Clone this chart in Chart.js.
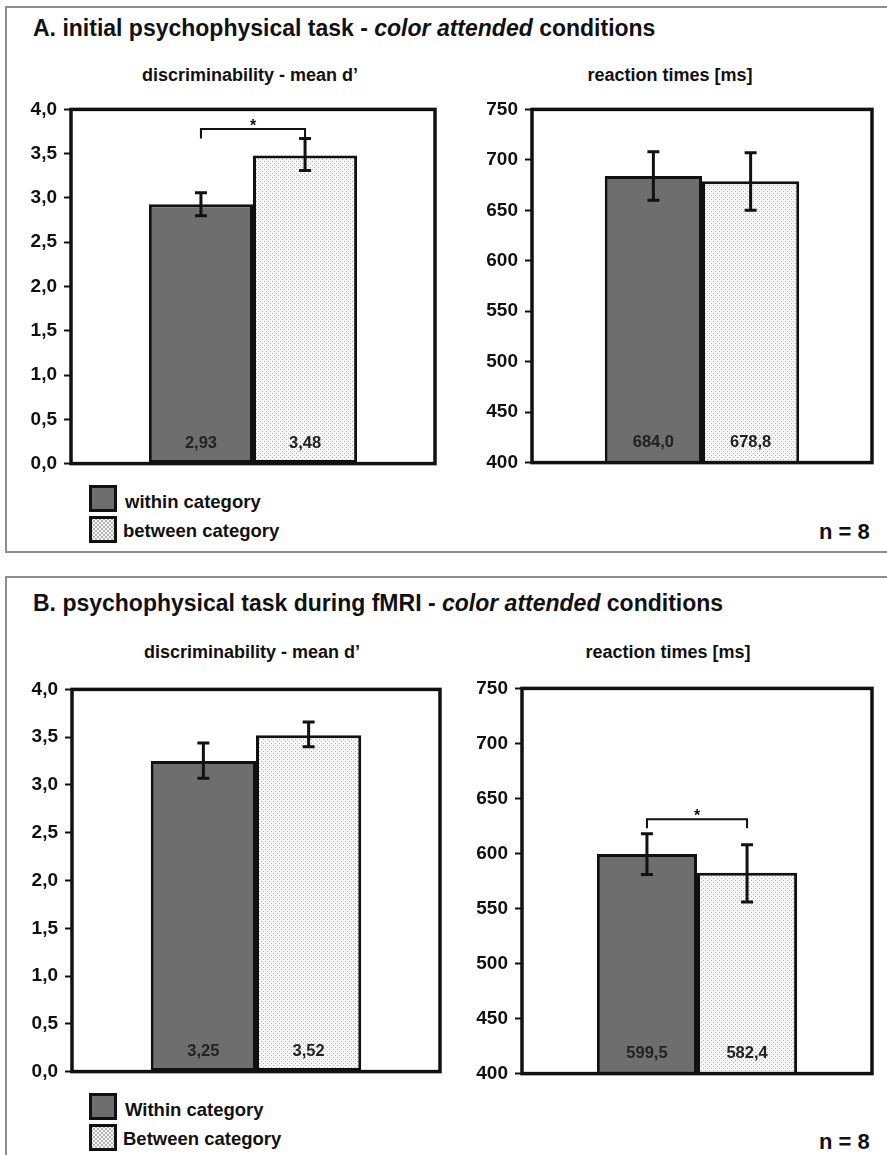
<!DOCTYPE html>
<html>
<head>
<meta charset="utf-8">
<script src="https://cdn.jsdelivr.net/npm/chart.js@4.4.0/dist/chart.umd.min.js"></script>
<style>
  html, body { margin: 0; padding: 0; background: #fff; }
  body { width: 887px; height: 1155px; position: relative; overflow: hidden;
         font-family: 'Liberation Sans', Arial, sans-serif; color: #111; }
  .panel { position: absolute; left: 5px; width: 920px; box-sizing: border-box;
           border: 2px solid #8c8c8c; }
  .txt { position: absolute; font-weight: bold; white-space: nowrap; }
  .title { font-size: 23px; line-height: 23px; }
  .sub { font-size: 18px; line-height: 18px; transform: translateX(-50%); }
  .leg { font-size: 18.5px; line-height: 18px; }
  .nlab { font-size: 22px; line-height: 22px; }
  .box { position: absolute; left: 89px; width: 28px; height: 27px; box-sizing: border-box;
         border: 3px solid #111; }
  .box.within { background: #6e6e6e; }
  .box.between { background-color: #f6f6f6;
    background-image: radial-gradient(circle, #b0b0b0 0.7px, transparent 0.9px),
                      radial-gradient(circle, #b0b0b0 0.7px, transparent 0.9px);
    background-size: 4px 4px; background-position: 0 0, 2px 2px; }
  canvas { position: absolute; }
</style>
</head>
<body>

<div class="panel" style="top:6px; height:547px;"></div>
<div class="panel" style="top:576px; height:700px;"></div>

<div class="txt title" style="left:33px; top:17px;">A. initial psychophysical task - <i>color attended</i> conditions</div>
<div class="txt sub" style="left:250px; top:66px;">discriminability - mean d’</div>
<div class="txt sub" style="left:670px; top:66px;">reaction times [ms]</div>
<div class="box within" style="top:485px;"></div>
<div class="box between" style="top:516px;"></div>
<div class="txt leg" style="left:125px; top:493px;">within category</div>
<div class="txt leg" style="left:123px; top:522px;">between category</div>
<div class="txt nlab" style="left:819px; top:521px;">n = 8</div>

<div class="txt title" style="left:33px; top:592px;">B. psychophysical task during fMRI - <i>color attended</i> conditions</div>
<div class="txt sub" style="left:252px; top:643px;">discriminability - mean d’</div>
<div class="txt sub" style="left:668px; top:643px;">reaction times [ms]</div>
<div class="box within" style="top:1093px;"></div>
<div class="box between" style="top:1124px;"></div>
<div class="txt leg" style="left:125px; top:1101px;">Within category</div>
<div class="txt leg" style="left:123px; top:1130px;">Between category</div>
<div class="txt nlab" style="left:819px; top:1131px;">n = 8</div>

<canvas id="aDp"></canvas>
<canvas id="aRt"></canvas>
<canvas id="bDp"></canvas>
<canvas id="bRt"></canvas>

<script>
/* ---- data ---- */
const categories = ['color attended'];
const seriesA = ['within category', 'between category'];
const seriesB = ['Within category', 'Between category'];

const dprimeTicks = [0, 0.5, 1.0, 1.5, 2.0, 2.5, 3.0, 3.5, 4.0];
const rtTicks = [400, 450, 500, 550, 600, 650, 700, 750];

// A. initial task
const aDprime     = [2.93, 3.48];
const aDprimeLow  = [2.80, 3.31];
const aDprimeHigh = [3.06, 3.67];
const aDprimeSig  = [3.78, 3.67];   // bracket level, leg end

const aRtMean = [684.0, 678.8];
const aRtLow  = [660, 650];
const aRtHigh = [708, 707];

// B. during fMRI
const bDprime     = [3.25, 3.52];
const bDprimeLow  = [3.07, 3.40];
const bDprimeHigh = [3.44, 3.66];

const bRtMean = [599.5, 582.4];
const bRtLow  = [581, 556];
const bRtHigh = [618, 608];
const bRtSig  = [631, 623];

/* ---- styling ---- */
const FONT = "'Liberation Sans', Arial, sans-serif";
const INK = '#111';
const WITHIN_FILL = '#6e6e6e';

function dotPattern() {
  const c = document.createElement('canvas');
  c.width = 4; c.height = 4;
  const g = c.getContext('2d');
  g.fillStyle = '#f6f6f6';
  g.fillRect(0, 0, 4, 4);
  g.fillStyle = '#b0b0b0';
  g.fillRect(0, 0, 1, 1);
  g.fillRect(2, 2, 1, 1);
  return g.createPattern(c, 'repeat');
}
const BETWEEN_FILL = dotPattern();

const comma = (v, d) => v.toFixed(d).replace('.', ',');

// frame, error bars, value labels, significance bracket
const extrasPlugin = {
  id: 'extras',
  afterDatasetsDraw(chart, args, opts) {
    const { ctx, chartArea: a } = chart;
    const y = chart.scales.y;
    const bars = [0, 1].map(i => chart.getDatasetMeta(i).data[0]);
    ctx.save();

    // value labels at the foot of each bar
    ctx.fillStyle = '#222';
    ctx.font = 'bold 16.5px ' + FONT;
    ctx.textAlign = 'center';
    ctx.textBaseline = 'middle';
    bars.forEach((b, i) => ctx.fillText(comma(opts.values[i], opts.decimals), b.x, a.bottom - 20));

    // error bars
    ctx.strokeStyle = INK;
    ctx.lineWidth = 3;
    ctx.lineCap = 'butt';
    bars.forEach((b, i) => {
      const yH = y.getPixelForValue(opts.high[i]);
      const yL = y.getPixelForValue(opts.low[i]);
      ctx.beginPath();
      ctx.moveTo(b.x, yH); ctx.lineTo(b.x, yL);
      ctx.moveTo(b.x - 6, yH); ctx.lineTo(b.x + 6, yH);
      ctx.moveTo(b.x - 6, yL); ctx.lineTo(b.x + 6, yL);
      ctx.stroke();
    });

    // significance bracket
    if (opts.sig) {
      const yT = y.getPixelForValue(opts.sig[0]);
      const yE = y.getPixelForValue(opts.sig[1]);
      ctx.lineWidth = 2;
      ctx.beginPath();
      ctx.moveTo(bars[0].x, yE);
      ctx.lineTo(bars[0].x, yT);
      ctx.lineTo(bars[1].x, yT);
      ctx.lineTo(bars[1].x, yE);
      ctx.stroke();
      ctx.fillStyle = INK;
      ctx.font = 'bold 16px ' + FONT;
      ctx.textBaseline = 'alphabetic';
      ctx.fillText('*', (bars[0].x + bars[1].x) / 2, yT + 2);
    }

    // plot frame
    ctx.lineWidth = 3.5;
    ctx.strokeRect(a.left, a.top, a.right - a.left, a.bottom - a.top);
    ctx.restore();
  }
};

function makeChart(id, box, names, values, low, high, ticks, tickDec, decimals, sig) {
  const cv = document.getElementById(id);
  const axisW = 65, padT = 12, padR = 8, padB = 12;
  const left = box.l - axisW, top = box.t - padT;
  cv.width = box.r + padR - left;
  cv.height = box.b + padB - top;
  cv.style.left = left + 'px';
  cv.style.top = top + 'px';

  const ds = (label, v, fill) => ({
    label, data: [v], backgroundColor: fill, borderColor: INK, borderWidth: 3,
    borderSkipped: false, categoryPercentage: 0.572, barPercentage: 1.0
  });

  return new Chart(cv, {
    type: 'bar',
    data: {
      labels: categories,
      datasets: [ds(names[0], values[0], WITHIN_FILL), ds(names[1], values[1], BETWEEN_FILL)]
    },
    options: {
      responsive: false,
      animation: false,
      devicePixelRatio: 1,
      layout: { padding: { top: padT, right: padR, bottom: padB, left: 0 } },
      plugins: {
        legend: { display: false },
        tooltip: { enabled: false },
        extras: { values, low, high, decimals, sig }
      },
      scales: {
        x: { display: false },
        y: {
          min: ticks[0], max: ticks[ticks.length - 1],
          afterBuildTicks: ax => { ax.ticks = ticks.map(v => ({ value: v })); },
          afterFit: ax => { ax.width = axisW; },
          border: { display: false },
          grid: { drawOnChartArea: false, drawTicks: true, tickLength: 7, tickColor: INK, tickWidth: 2 },
          ticks: {
            padding: 7, color: INK,
            font: { family: FONT, weight: 'bold', size: 19 },
            callback: v => comma(v, tickDec)
          }
        }
      }
    },
    plugins: [extrasPlugin]
  });
}

makeChart('aDp', { l: 71, r: 435, t: 103, b: 470 }, seriesA, aDprime, aDprimeLow, aDprimeHigh, dprimeTicks, 1, 2, aDprimeSig);
makeChart('aRt', { l: 532, r: 872, t: 103, b: 469 }, seriesA, aRtMean, aRtLow, aRtHigh, rtTicks, 0, 1, null);
makeChart('bDp', { l: 72, r: 440, t: 683, b: 1078 }, seriesB, bDprime, bDprimeLow, bDprimeHigh, dprimeTicks, 1, 2, null);
makeChart('bRt', { l: 522, r: 872, t: 682, b: 1080 }, seriesB, bRtMean, bRtLow, bRtHigh, rtTicks, 0, 1, bRtSig);
</script>
</body>
</html>
